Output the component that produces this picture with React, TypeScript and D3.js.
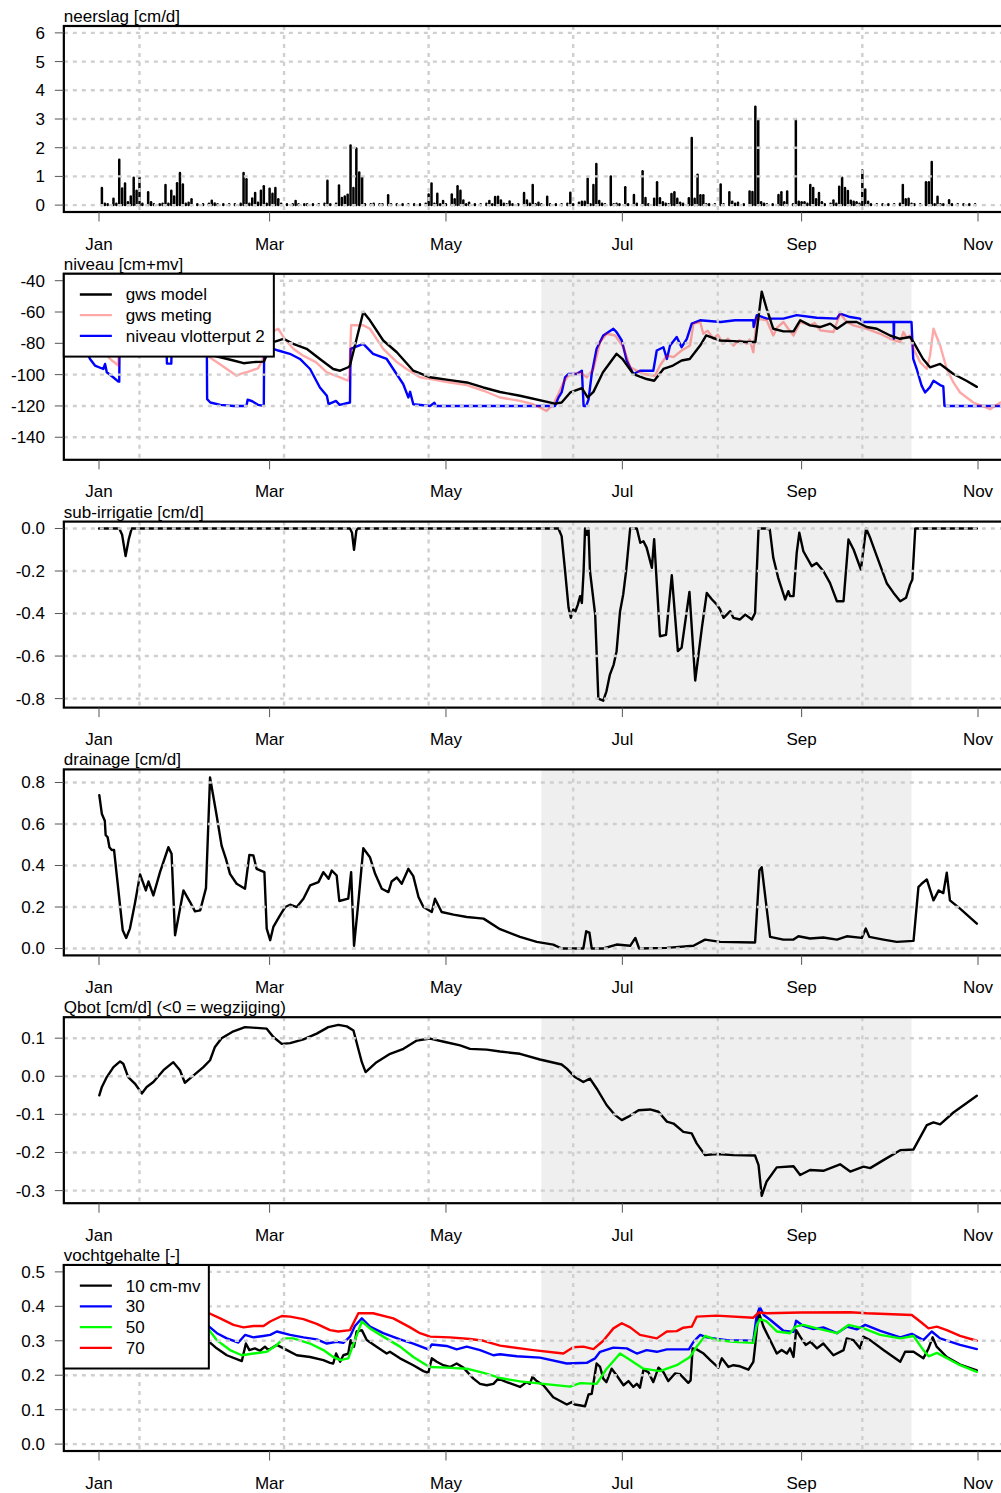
import React from 'react';
import * as d3 from 'd3';

type Pt = [number, number];

// all series are [day since 1 Jan 2015, value]
const JAN1 = new Date(Date.UTC(2015, 0, 1));
const DEC1 = new Date(Date.UTC(2015, 11, 1));
const dataDays: Pt = [0, 304];
const shadeFrom = new Date(Date.UTC(2015, 5, 3));
const shadeTo = new Date(Date.UTC(2015, 9, 9));

const rainfall: Pt[] = [
  [1, 0.6], [2, 0.05], [3, 0.03], [5, 0.22], [6, 0.05], [7, 1.58], [8, 0.58], [9, 0.75], [10, 0.1], [11, 0.3],
  [12, 0.95], [13, 0.5], [14, 0.95], [15, 0.05], [17, 0.45], [18, 0.1], [19, 0.03], [21, 0.03], [22, 0.05],
  [23, 0.7], [24, 0.05], [25, 0.5], [26, 0.3], [27, 0.76], [28, 1.12], [29, 0.72], [30, 0.05], [31, 0.08],
  [32, 0.2], [34, 0.03], [36, 0.03], [38, 0.05], [39, 0.15], [40, 0.06], [41, 0.03], [43, 0.03], [45, 0.03],
  [47, 0.03], [49, 0.05], [50, 1.12], [51, 0.9], [52, 0.05], [53, 0.23], [54, 0.42], [55, 0.08], [56, 0.5],
  [57, 0.66], [58, 0.05], [59, 0.57], [60, 0.4], [61, 0.6], [62, 0.2], [63, 0.05], [65, 0.03], [67, 0.03],
  [68, 0.14], [69, 0.03], [71, 0.03], [72, 0.03], [74, 0.03], [76, 0.03], [78, 0.05], [79, 0.85], [80, 0.03],
  [82, 0.05], [83, 0.68], [84, 0.25], [85, 0.3], [86, 0.36], [87, 2.08], [88, 0.6], [89, 1.97], [90, 1.14],
  [91, 0.97], [92, 0.03], [94, 0.03], [95, 0.05], [97, 0.03], [98, 0.03], [100, 0.34], [101, 0.03], [103, 0.03],
  [105, 0.03], [107, 0.03], [109, 0.03], [111, 0.03], [113, 0.05], [114, 0.37], [115, 0.75], [116, 0.05],
  [117, 0.4], [118, 0.03], [119, 0.14], [120, 0.03], [122, 0.37], [123, 0.2], [124, 0.66], [125, 0.5],
  [126, 0.16], [127, 0.03], [128, 0.08], [130, 0.03], [132, 0.03], [134, 0.05], [135, 0.14], [136, 0.03],
  [137, 0.28], [138, 0.29], [139, 0.16], [140, 0.05], [141, 0.03], [142, 0.13], [143, 0.03], [145, 0.03],
  [147, 0.42], [148, 0.16], [149, 0.05], [150, 0.7], [151, 0.03], [152, 0.08], [153, 0.03], [155, 0.29],
  [156, 0.03], [158, 0.03], [160, 0.03], [162, 0.05], [163, 0.43], [164, 0.03], [166, 0.08], [167, 0.12],
  [168, 0.12], [169, 0.92], [170, 0.03], [171, 0.7], [172, 1.43], [173, 0.14], [174, 0.05], [175, 0.03],
  [177, 1.0], [178, 0.03], [179, 0.05], [180, 0.03], [182, 0.62], [183, 0.03], [185, 0.35], [186, 0.05],
  [188, 1.18], [189, 0.25], [190, 0.03], [192, 0.22], [193, 0.8], [194, 0.24], [195, 0.1], [196, 0.05],
  [197, 0.03], [198, 0.39], [199, 0.45], [200, 0.22], [201, 0.08], [202, 0.05], [204, 0.24], [205, 2.34],
  [206, 0.22], [207, 1.06], [208, 0.34], [209, 0.34], [210, 0.03], [211, 0.03], [213, 0.03], [215, 0.72],
  [216, 0.03], [218, 0.45], [219, 0.12], [220, 0.05], [221, 0.08], [223, 0.03], [225, 0.47], [226, 0.46],
  [227, 3.43], [228, 2.95], [229, 0.1], [230, 0.05], [231, 0.03], [233, 0.03], [235, 0.35], [236, 0.45],
  [237, 0.1], [238, 0.47], [240, 0.03], [241, 2.97], [242, 0.12], [243, 0.1], [244, 0.1], [245, 0.05],
  [246, 0.7], [247, 0.6], [248, 0.2], [249, 0.42], [250, 0.1], [251, 0.03], [253, 0.05], [254, 0.16],
  [255, 0.05], [256, 0.64], [257, 0.95], [258, 0.6], [259, 0.49], [260, 0.15], [261, 0.12], [262, 0.1],
  [263, 0.05], [264, 1.21], [265, 0.54], [266, 0.12], [267, 0.03], [269, 0.03], [271, 0.03], [273, 0.03],
  [275, 0.03], [277, 0.05], [278, 0.7], [279, 0.2], [280, 0.22], [281, 0.05], [282, 0.03], [284, 0.03],
  [286, 0.8], [287, 0.8], [288, 1.5], [289, 0.03], [290, 0.29], [291, 0.03], [292, 0.03], [294, 0.17],
  [295, 0.03], [297, 0.03], [299, 0.03], [301, 0.03], [303, 0.03],
];

const gwsModel: Pt[] = [
  [0, -78], [5, -74], [10, -72], [15, -75], [20, -77], [25, -78], [30, -80], [35, -84], [39.5, -87.8],
  [46.5, -91], [50, -92.7], [53.4, -92], [57, -91.7], [58.5, -85.7], [60.3, -79.2], [63.8, -77.1], [67.2, -80.3],
  [71.8, -83.5], [76.4, -90], [81, -96.4], [83.4, -97.5], [86.2, -95.3], [86.8, -94.2], [91.4, -60], [93.7, -65.3],
  [98.3, -78.2], [103, -85.7], [108.7, -97.5], [114.5, -101.7], [121.4, -103.5], [127.2, -105], [132.9, -108.2],
  [138.7, -111.1], [145.6, -113.5], [157.7, -118.5], [160, -117.8], [163, -111.4], [167, -108.6], [169, -114.6],
  [171, -111], [174.3, -98.5], [179, -86.7], [181, -89.9], [184.8, -99.6], [189.4, -102.8], [192, -103.9],
  [195.2, -96.4], [198.5, -94.2], [201.5, -91], [204.3, -90], [207.9, -81.4], [210, -75], [214.8, -78.2],
  [219.4, -78.6], [224, -79.2], [227, -79.2], [229.2, -47], [230.9, -57.8], [233.2, -70.7], [236.7, -72.4],
  [240.2, -72.4], [242.5, -65.3], [245.9, -68.5], [249.4, -69.6], [252.9, -67.4], [255.2, -70.7], [258.6, -66.4],
  [262, -66.4], [265.5, -69.6], [269, -70.7], [273.6, -75], [277, -77.1], [280.5, -76], [281.7, -79.2],
  [285, -90], [287.4, -95.3], [290.9, -93.2], [295.5, -99.6], [300, -103.9], [303.6, -107.8],
];

const gwsMeting: Pt[] = [
  [0, -80], [2.7, -87.8], [4.5, -91], [6.7, -94.2], [6.8, -75], [10, -72], [15, -74], [20, -76], [25, -78],
  [30, -80], [35, -84], [37.3, -87.8], [40.7, -92], [44.2, -96.4], [47.6, -100.7], [49, -99.5], [51, -98.5],
  [53.4, -97], [55, -96], [56.5, -91], [57.5, -84], [59, -78], [60.5, -72], [62, -70.7], [63.8, -76], [65.5, -80],
  [67.2, -83.5], [70.5, -87.8], [75, -92], [78.8, -98.5], [83.4, -101.7], [86.2, -103.9], [86.6, -100],
  [87.2, -68.5], [91.4, -68.5], [93.7, -70.7], [98.3, -83.5], [103, -92], [106.4, -96.4], [111, -101.7],
  [115.6, -103.2], [121.4, -105], [127.2, -106.7], [133, -110.3], [138.7, -114.6], [145.6, -116.8],
  [150.2, -118.9], [154.8, -123.2], [157.1, -118.9], [158.9, -112.4], [160.6, -105], [162.3, -100.7],
  [166.4, -98.5], [168.7, -101.7], [171, -96.4], [173.3, -79.2], [175.6, -73.9], [178.5, -75], [181.4, -82.5],
  [183.7, -95.3], [188.3, -99.6], [192.3, -100.7], [194, -94.2], [196.4, -87.8], [198.7, -88.8], [201.5, -84.6],
  [204.4, -81.4], [205.6, -67.4], [207.9, -66.4], [209, -73.9], [210.5, -72], [212.5, -77.1], [214, -74.5],
  [215.9, -80.3], [217.5, -77], [219.4, -81.4], [221.5, -78], [224, -80.3], [225, -77.5], [226.3, -85.7],
  [227.5, -64.2], [230.9, -65.3], [233.2, -75], [234.5, -70], [236.7, -66.4], [238.5, -71], [240.2, -75],
  [242.5, -66.4], [245.9, -68.5], [247.5, -67], [249.4, -71.7], [254, -72.8], [256.3, -61], [258.6, -66.4],
  [260.9, -68.5], [265.5, -70.7], [270.2, -73.9], [273.6, -77.1], [277.1, -79.2], [278.2, -72.8], [279.4, -76.5],
  [280.5, -75], [281.7, -83.5], [284, -92], [286.3, -96.4], [287.4, -87.8], [288.6, -70.7], [290.9, -81.4],
  [293.2, -96.4], [295.5, -105], [297.8, -111.4], [302.4, -117.8], [308.2, -122.1], [311.7, -117.8],
];

const vlotterput: Pt[] = [
  [-3.7, -87.8], [-3.1, -90], [-1.4, -94.2], [1.5, -96.4], [2.1, -93.2], [2.7, -98.5], [4.9, -101.7],
  [6.7, -104.5], [7, -104.5], [7.1, -84], [10, -80], [15, -82], [20, -84], [23.4, -87], [23.5, -93], [25, -93],
  [25.1, -86], [30, -84], [37.3, -85], [37.4, -115.7], [38.5, -117.8], [42, -119.3], [46.6, -120], [51, -120],
  [51.4, -116], [53, -117], [55, -119.3], [57, -120], [57.1, -87.8], [58, -80], [60.3, -83.5], [62, -84.6],
  [66, -86.7], [69.5, -90], [73, -96.4], [76.4, -108.2], [78.8, -113.5], [79.4, -118.9], [82, -116.8],
  [83.2, -119.3], [86.8, -117.8], [87, -83.5], [91.4, -80.3], [94.8, -86.7], [99.5, -90], [102.9, -99.6],
  [105.2, -106], [107, -114.6], [107.6, -111], [108.7, -118.9], [114.5, -120], [116, -118], [116.5, -120],
  [157.7, -120], [158.9, -114.6], [160, -111.4], [161.2, -101.7], [162.3, -99.6], [165.2, -99.6], [167, -97.5],
  [167.6, -120], [168.5, -120], [169.3, -116], [170.4, -99.6], [172.1, -83.5], [174.4, -75], [177.9, -70.7],
  [179, -72.8], [180.8, -78.2], [182.5, -91], [184.8, -99.6], [187.1, -97.5], [191.7, -97.5], [192.9, -84.6],
  [195.2, -82.5], [196.4, -90], [197.5, -81.4], [199.8, -76], [201.5, -82.5], [203.3, -77.1], [205, -67.4],
  [207.9, -65.3], [215, -66.4], [220, -65.3], [226.3, -65.3], [226.4, -69.6], [227.5, -62], [231, -64.2],
  [236.7, -64.2], [241.3, -62], [248.2, -63.7], [255.2, -64.2], [256.3, -61], [259.8, -63.2], [263.2, -64.2],
  [264.3, -66.4], [274.8, -66.4], [274.9, -77], [275, -66.4], [281, -66.4], [281.6, -90], [282.8, -96.4],
  [284.5, -107], [285.7, -111.4], [287.4, -108], [288.6, -103.9], [290.9, -106.7], [292, -107.5], [292.4, -120],
  [316, -120],
];

const subIrrigatie: Pt[] = [
  [0, 0], [7, 0], [8, -0.03], [9.2, -0.13], [10.3, -0.05], [11.3, 0], [86.8, 0], [87.5, -0.02], [88.2, -0.1],
  [89, -0.01], [89.5, 0], [158.9, 0], [160, -0.036], [161.2, -0.2], [162.4, -0.373], [163.2, -0.42],
  [164, -0.381], [164.8, -0.389], [165.6, -0.358], [166.4, -0.318], [167, -0.35], [167.6, -0.2], [168.1, 0],
  [168.8, -0.03], [169.3, 0], [169.8, -0.2], [171.6, -0.405], [172.7, -0.8], [174.4, -0.81], [175.5, -0.766],
  [176.7, -0.687], [178, -0.64], [179, -0.577], [180.2, -0.39], [181.3, -0.31], [182.3, -0.2], [183.7, 0],
  [186, 0], [187.2, -0.067], [188.3, -0.06], [189.4, -0.09], [191.2, -0.185], [192, -0.05], [194, -0.507],
  [196.1, -0.5], [198.1, -0.22], [200.2, -0.577], [201.5, -0.56], [204.2, -0.298], [206.2, -0.715],
  [208.5, -0.467], [210.2, -0.303], [212, -0.334], [213.7, -0.358], [214.8, -0.381], [216, -0.42],
  [218.3, -0.389], [219.4, -0.42], [221.7, -0.428], [223.5, -0.405], [225.8, -0.428], [226.9, -0.397],
  [228.1, 0], [230.9, 0], [232, -0.005], [233.2, -0.138], [234.9, -0.232], [237.3, -0.334], [238.4, -0.295],
  [239, -0.318], [240.2, -0.318], [241.3, -0.115], [242.2, -0.02], [243.6, -0.107], [246.5, -0.177],
  [248.2, -0.162], [250.5, -0.2], [252.8, -0.256], [255.2, -0.342], [257.5, -0.342], [259.2, -0.052],
  [261, -0.1], [263.5, -0.193], [265.3, 0], [266.7, -0.044], [269, -0.13], [272.5, -0.259], [274.8, -0.303],
  [277.1, -0.342], [279.1, -0.326], [280.5, -0.264], [281.3, -0.24], [282.3, 0], [303.6, 0],
];

const drainage: Pt[] = [
  [0.1, 0.739], [1, 0.648], [2, 0.616], [2.3, 0.547], [3, 0.536], [3.6, 0.488], [4.4, 0.475], [5.2, 0.475],
  [8.2, 0.088], [9.4, 0.051], [10.7, 0.096], [12.4, 0.216], [14.2, 0.357], [16.2, 0.28], [17.1, 0.323],
  [18.8, 0.256], [21.1, 0.368], [24, 0.488], [25.1, 0.456], [26.3, 0.064], [29.2, 0.28], [31.5, 0.224],
  [33.2, 0.179], [35, 0.184], [37, 0.291], [38.4, 0.824], [39.5, 0.736], [40.7, 0.64], [42.4, 0.496],
  [43.9, 0.432], [45.3, 0.36], [47.6, 0.312], [50.5, 0.288], [52, 0.451], [53.4, 0.448], [54.5, 0.384],
  [57.2, 0.368], [58, 0.096], [59.2, 0.04], [60.3, 0.104], [62.6, 0.16], [64.4, 0.2], [66.1, 0.211],
  [68.4, 0.2], [70.7, 0.24], [73, 0.304], [75.9, 0.32], [77.6, 0.368], [79.4, 0.336], [80.5, 0.376],
  [82.2, 0.352], [83.1, 0.229], [86.2, 0.24], [87.2, 0.368], [88.2, 0.013], [89.7, 0.224], [91.4, 0.483],
  [93.7, 0.44], [95.5, 0.36], [97.8, 0.288], [100.1, 0.272], [101.2, 0.323], [103, 0.342], [104.7, 0.312],
  [107, 0.384], [108.7, 0.349], [110.5, 0.248], [112.2, 0.2], [115.1, 0.176], [116.2, 0.24], [118.5, 0.176],
  [122.6, 0.163], [127.2, 0.152], [133, 0.144], [138.7, 0.093], [145.6, 0.056], [151.4, 0.032],
  [157.1, 0.019], [160, 0], [167.5, 0], [168.5, 0.083], [169.6, 0.077], [170.4, 0], [174.4, 0], [179, 0.019],
  [183.7, 0.013], [185.5, 0.051], [186.8, 0], [196.4, 0.003], [205.6, 0.013], [209.6, 0.043], [214.8, 0.032],
  [226.9, 0.029], [228.4, 0.376], [229.2, 0.392], [232.1, 0.056], [236.7, 0.043], [240.2, 0.043],
  [241.9, 0.059], [245.9, 0.048], [250.5, 0.053], [255.2, 0.043], [258.6, 0.059], [263.8, 0.051],
  [265.2, 0.096], [266.4, 0.056], [271.3, 0.043], [275.9, 0.032], [281.7, 0.037], [283.4, 0.296],
  [284.5, 0.312], [286.3, 0.333], [288.6, 0.232], [290.4, 0.28], [292, 0.267], [293.2, 0.365], [294.3, 0.232],
  [297.8, 0.192], [303.6, 0.12],
];

const qbot: Pt[] = [
  [0.1, -0.05], [1, -0.028], [2.7, -0.002], [5, 0.024], [7.3, 0.039], [8.4, 0.033], [10.1, -0.002],
  [12.4, -0.019], [14.8, -0.045], [16.5, -0.028], [18.8, -0.015], [22.3, 0.016], [25.7, 0.037], [28, 0.016],
  [29.7, -0.017], [32, -0.002], [36.1, 0.024], [38.4, 0.042], [40.1, 0.077], [42.4, 0.1], [46.5, 0.118],
  [50.5, 0.129], [54.5, 0.127], [58, 0.125], [60.3, 0.103], [63.2, 0.085], [66.1, 0.087], [70.7, 0.097],
  [75.3, 0.112], [79.3, 0.129], [82.8, 0.135], [85.7, 0.131], [88, 0.12], [90.9, 0.037], [92.2, 0.011],
  [96, 0.037], [100.7, 0.059], [105.3, 0.072], [109.9, 0.094], [114.5, 0.099], [119.7, 0.09], [124.9, 0.081],
  [128.3, 0.072], [134.1, 0.07], [138.7, 0.065], [145.6, 0.059], [152.5, 0.044], [160, 0.031], [161.8, 0.02],
  [164.6, -0.002], [167.5, -0.015], [169.8, -0.006], [172.1, -0.032], [175.6, -0.076], [178.5, -0.102],
  [180.8, -0.115], [183.1, -0.106], [186.6, -0.089], [190.6, -0.087], [193.5, -0.093], [196.4, -0.119],
  [198.7, -0.124], [202.1, -0.146], [205, -0.15], [206.7, -0.176], [209.6, -0.207], [213.6, -0.204],
  [219.4, -0.207], [226.9, -0.208], [228.1, -0.233], [229.2, -0.314], [230.9, -0.276], [234.4, -0.239],
  [240.2, -0.236], [242.5, -0.259], [245.9, -0.246], [250.5, -0.248], [256.3, -0.231], [259.8, -0.25],
  [264.4, -0.237], [266.7, -0.241], [271.3, -0.22], [277.1, -0.194], [281.7, -0.192], [286.3, -0.128],
  [288.6, -0.121], [290.9, -0.126], [295.5, -0.095], [303.6, -0.051],
];

const theta10: Pt[] = [
  [0, 0.3], [10, 0.32], [20, 0.31], [30, 0.31], [38.1, 0.297], [40.7, 0.278], [44.2, 0.258], [49.4, 0.241],
  [50.8, 0.292], [52, 0.273], [53.9, 0.278], [55.7, 0.271], [57.4, 0.283], [58.6, 0.273], [61.5, 0.288],
  [65, 0.273], [68.4, 0.258], [73, 0.253], [77.6, 0.244], [79.9, 0.236], [81, 0.234], [82, 0.263], [83.4, 0.239],
  [84.5, 0.258], [86.2, 0.263], [87, 0.302], [88.2, 0.283], [89.1, 0.327], [90.9, 0.331], [92.6, 0.302],
  [96, 0.283], [99.5, 0.263], [100.6, 0.268], [104.1, 0.249], [108.7, 0.229], [112.2, 0.212], [113.9, 0.207],
  [115.1, 0.249], [116.8, 0.239], [119.1, 0.229], [121.4, 0.224], [123.7, 0.234], [126, 0.222], [129.5, 0.19],
  [131.8, 0.175], [134.1, 0.171], [136.4, 0.175], [138.1, 0.19], [141, 0.18], [145.6, 0.166], [147.9, 0.18],
  [149, 0.175], [149.9, 0.195], [151.4, 0.183], [153.7, 0.171], [157.1, 0.136], [161.8, 0.115], [163.5, 0.122],
  [164.6, 0.115], [168.1, 0.11], [169.3, 0.144], [170.4, 0.146], [172.1, 0.234], [173.3, 0.224], [174.4, 0.19],
  [175.5, 0.18], [177.3, 0.219], [179, 0.2], [181.4, 0.171], [183.1, 0.183], [184.8, 0.166], [186, 0.175],
  [187.1, 0.164], [188.3, 0.216], [190, 0.209], [191.7, 0.18], [193.5, 0.222], [195.2, 0.209], [196.9, 0.183],
  [199.2, 0.205], [200.9, 0.203], [203.8, 0.178], [204.6, 0.185], [205.3, 0.278], [206.7, 0.275],
  [209.1, 0.263], [211.4, 0.244], [214.2, 0.222], [215.4, 0.249], [217.7, 0.224], [219.4, 0.229],
  [221.7, 0.226], [224.6, 0.216], [226.3, 0.239], [226.9, 0.283], [228.1, 0.385], [229.8, 0.341],
  [232.1, 0.302], [234.4, 0.263], [236.1, 0.273], [237.9, 0.263], [239, 0.278], [240.2, 0.253], [241.1, 0.331],
  [242.5, 0.312], [244.4, 0.288], [246.1, 0.297], [248.3, 0.278], [250.5, 0.292], [254, 0.258], [257.5, 0.273],
  [258.6, 0.307], [260.9, 0.302], [263.2, 0.278], [264.3, 0.312], [266.7, 0.302], [271.3, 0.273],
  [277.1, 0.239], [278.8, 0.268], [281.7, 0.268], [285.1, 0.249], [286.9, 0.278], [288.3, 0.31],
  [289.7, 0.283], [293.2, 0.253], [297.8, 0.231], [303.6, 0.214],
];

const theta30: Pt[] = [
  [0, 0.33], [10, 0.34], [20, 0.345], [30, 0.35], [38.1, 0.341], [40.8, 0.322], [44.2, 0.307], [48.2, 0.295],
  [50.5, 0.317], [53.4, 0.31], [56.8, 0.314], [59.2, 0.317], [61.5, 0.327], [66.1, 0.317], [70.7, 0.31],
  [75.3, 0.304], [78.8, 0.292], [82.2, 0.297], [84.5, 0.294], [86.8, 0.312], [88.5, 0.343], [90.9, 0.365],
  [93.7, 0.341], [98.3, 0.322], [104.1, 0.304], [108.7, 0.292], [113.9, 0.275], [115.1, 0.289], [120.2, 0.285],
  [123.7, 0.275], [127.2, 0.283], [131.8, 0.273], [136.4, 0.258], [138.7, 0.261], [144.5, 0.255],
  [152.5, 0.251], [161.8, 0.234], [168.7, 0.236], [171.6, 0.249], [173.3, 0.268], [177.9, 0.28],
  [182.5, 0.278], [186, 0.263], [189.4, 0.273], [192.9, 0.268], [196.4, 0.275], [204, 0.275], [205.6, 0.297],
  [207.9, 0.317], [210.2, 0.31], [217.1, 0.302], [226.3, 0.3], [227.4, 0.37], [228.5, 0.398], [229.9, 0.375],
  [232.1, 0.361], [236.7, 0.329], [240.2, 0.326], [241.1, 0.358], [243.6, 0.343], [247.1, 0.334],
  [250.5, 0.339], [255.2, 0.322], [258.6, 0.341], [262.1, 0.333], [265, 0.346], [270.2, 0.329], [277.1, 0.31],
  [281.1, 0.32], [285.1, 0.302], [288, 0.327], [290.9, 0.307], [297.8, 0.288], [303.6, 0.276],
];

const theta50: Pt[] = [
  [0, 0.32], [10, 0.33], [20, 0.335], [30, 0.34], [38.1, 0.331], [40.7, 0.302], [45.3, 0.273], [49.4, 0.258],
  [53.4, 0.263], [58, 0.268], [61.5, 0.288], [63.8, 0.307], [67.2, 0.307], [73, 0.292], [77.6, 0.273],
  [81, 0.253], [83.4, 0.244], [86.2, 0.249], [88.5, 0.302], [90.9, 0.356], [93.7, 0.336], [98.3, 0.312],
  [104.1, 0.283], [108.7, 0.253], [113.3, 0.229], [114.5, 0.224], [120.2, 0.222], [127.2, 0.219], [133, 0.207],
  [138.7, 0.192], [145.6, 0.182], [153.7, 0.175], [162.9, 0.167], [166.4, 0.177], [172.1, 0.175],
  [175.6, 0.219], [180.2, 0.263], [183.7, 0.244], [188.3, 0.219], [194, 0.212], [199.8, 0.229], [204.4, 0.253],
  [206.7, 0.283], [209.6, 0.314], [213.6, 0.302], [219.4, 0.297], [226.3, 0.294], [227.5, 0.346],
  [228.6, 0.363], [230.9, 0.356], [234.4, 0.327], [239, 0.322], [240.8, 0.341], [243.6, 0.346], [248.3, 0.336],
  [255.2, 0.322], [259.2, 0.346], [264.4, 0.336], [270.2, 0.317], [277.1, 0.307], [281.7, 0.314],
  [285.1, 0.273], [286.9, 0.255], [289.8, 0.265], [294.4, 0.244], [297.8, 0.229], [303.6, 0.21],
];

const theta70: Pt[] = [
  [0, 0.36], [10, 0.37], [20, 0.372], [30, 0.376], [38.1, 0.38], [41.9, 0.365], [46.5, 0.346], [50, 0.339],
  [53.4, 0.343], [56.9, 0.343], [59.2, 0.356], [63.2, 0.372], [66.1, 0.37], [70.7, 0.363], [75.3, 0.349],
  [79.9, 0.331], [82.8, 0.327], [86.8, 0.331], [89.7, 0.38], [94.8, 0.38], [101.8, 0.365], [107.6, 0.339],
  [111, 0.322], [114.5, 0.312], [121.4, 0.31], [128.3, 0.305], [133, 0.3], [138.7, 0.286], [150.2, 0.273],
  [160.6, 0.263], [164, 0.281], [167.5, 0.283], [171, 0.276], [174.4, 0.3], [177.9, 0.336], [180.8, 0.351],
  [183.7, 0.339], [187.1, 0.317], [192.9, 0.307], [196.4, 0.327], [199.8, 0.328], [202.1, 0.338], [205, 0.341],
  [206.7, 0.37], [213.6, 0.373], [226.3, 0.367], [228.1, 0.382], [231, 0.38], [242.5, 0.382], [259.8, 0.383],
  [265.5, 0.38], [281.1, 0.375], [284, 0.356], [286.9, 0.336], [289.8, 0.341], [293.2, 0.331], [297.8, 0.314],
  [303.6, 0.3],
];

const panelTitles = [
  'neerslag [cm/d]',
  'niveau [cm+mv]',
  'sub-irrigatie [cm/d]',
  'drainage [cm/d]',
  'Qbot [cm/d] (<0 = wegzijging)',
  'vochtgehalte [-]',
];
const panelYlims: Pt[] = [[0, 6], [-150, -40], [-0.81, 0], [0, 0.83], [-0.315, 0.137], [0, 0.5]];
const panelTickCounts = [6, 5, 5, 5, 5, 5];
const levelLegend = ['gws model', 'gws meting', 'niveau vlotterput 2'];
const moistureLegend = ['10 cm-mv', '30', '50', '70'];

// layout
const W = 1001;
const H = 1493;
const PANEL_TOP = 26;
const PANEL_STEP = 247.8;
const PANEL_H = 186;
const FONT = '"Liberation Sans", Arial, Helvetica, sans-serif';
const FS = 17;
const GRID = '#cfcfcf';
const PINK = 'rgba(255,0,0,0.34)';

const loc = d3.formatLocale({ decimal: '.', thousands: ',', grouping: [3], currency: ['', ''], minus: '-' });
const fmtInt = loc.format('d');
const fmtDec = loc.format('.1f');

const extend = ([a, b]: Pt): Pt => {
  const d = (b - a) * 0.04;
  return [a - d, b + d];
};

const dayOf = (d: Date) => d3.utcDay.count(JAN1, d);
const x = d3.scaleLinear().domain(dataDays).range([99, 978]);
const [xLeft, xRight] = extend(dataDays).map(x);
const monthTicks = d3.utcMonth.every(2)!.range(JAN1, DEC1);
const monthFmt = d3.utcFormat('%b');
// R grid(): every 50 days on the numeric Date axis
const epoch0 = Math.round(JAN1.getTime() / 86400000);
const [dLo, dHi] = extend(dataDays);
const gridDays = d3.range(Math.ceil((epoch0 + dLo) / 50) * 50, epoch0 + dHi, 50).map((v) => v - epoch0);

function Legend({ top, width, labels, colors }: { top: number; width: number; labels: string[]; colors: string[] }) {
  const row = 20.7;
  return (
    <g>
      <rect x={xLeft} y={top} width={width} height={row * (labels.length + 1)} fill="#fff" stroke="#000" strokeWidth={2} />
      {labels.map((l, i) => (
        <g key={l}>
          <line x1={xLeft + 16} x2={xLeft + 48} y1={top + row * (i + 1)} y2={top + row * (i + 1)} stroke={colors[i]} strokeWidth={2.3} />
          <text x={xLeft + 62} y={top + row * (i + 1)} dy="0.35em" fontSize={FS} fontFamily={FONT}>{l}</text>
        </g>
      ))}
    </g>
  );
}

export default function App() {
  const panels = panelTitles.map((title, i) => {
    const top = PANEL_TOP + i * PANEL_STEP;
    const bottom = top + PANEL_H;
    const y = d3.scaleLinear().domain(extend(panelYlims[i])).range([bottom, top]);
    const yTicks = d3.ticks(panelYlims[i][0], panelYlims[i][1], panelTickCounts[i]);
    const fmt = i < 2 ? fmtInt : fmtDec;
    const line = d3.line<Pt>().x((d) => x(d[0])).y((d) => y(d[1]));
    const path = (pts: Pt[], color: string, w = 2.4) => (
      <path d={line(pts) ?? ''} fill="none" stroke={color} strokeWidth={w} strokeLinejoin="round" strokeLinecap="round" />
    );

    let content: React.ReactNode = null;
    if (i === 0) {
      content = rainfall.map(([d, v]) => (
        <line key={d} x1={x(d)} x2={x(d)} y1={y(0)} y2={y(v)} stroke="#000" strokeWidth={2.5} strokeLinecap="round" />
      ));
    } else if (i === 1) {
      content = (
        <>
          {path(vlotterput, '#0000ff')}
          {path(gwsMeting, PINK)}
          {path(gwsModel, '#000')}
        </>
      );
    } else if (i === 2) {
      content = path(subIrrigatie, '#000');
    } else if (i === 3) {
      content = path(drainage, '#000');
    } else if (i === 4) {
      content = path(qbot, '#000');
    } else {
      content = (
        <>
          {path(theta10, '#000')}
          {path(theta30, '#0000ff')}
          {path(theta50, '#00ff00')}
          {path(theta70, '#ff0000')}
        </>
      );
    }

    return (
      <g key={title}>
        <defs>
          <clipPath id={`clip-${i}`}>
            <rect x={xLeft} y={top} width={xRight - xLeft} height={PANEL_H} />
          </clipPath>
        </defs>
        {i > 0 && (
          <rect x={x(dayOf(shadeFrom))} y={top} width={x(dayOf(shadeTo)) - x(dayOf(shadeFrom))} height={PANEL_H} fill="#efefef" />
        )}
        <g clipPath={`url(#clip-${i})`}>{content}</g>
        {/* grid sits on top of the data, as in the original */}
        <g stroke={GRID} strokeWidth={2.4} strokeDasharray="4 5">
          {gridDays.map((d) => (
            <line key={d} x1={x(d)} x2={x(d)} y1={top} y2={bottom} />
          ))}
          {yTicks.map((t) => (
            <line key={t} x1={xLeft} x2={xRight} y1={y(t)} y2={y(t)} />
          ))}
        </g>
        <rect x={xLeft} y={top} width={xRight - xLeft} height={PANEL_H} fill="none" stroke="#000" strokeWidth={2.2} />
        {monthTicks.map((m) => (
          <g key={+m}>
            <line x1={x(dayOf(m))} x2={x(dayOf(m))} y1={bottom} y2={bottom + 9.5} stroke="#555" strokeWidth={1} />
            <text x={x(dayOf(m))} y={bottom + 37.5} textAnchor="middle" fontSize={FS} fontFamily={FONT}>{monthFmt(m)}</text>
          </g>
        ))}
        {yTicks.map((t) => (
          <g key={t}>
            <line x1={xLeft - 9} x2={xLeft} y1={y(t)} y2={y(t)} stroke="#555" strokeWidth={1} />
            <text x={45} y={y(t)} dy="0.35em" textAnchor="end" fontSize={FS} fontFamily={FONT}>{fmt(t)}</text>
          </g>
        ))}
        <text x={xLeft} y={top - 4} fontSize={FS} fontFamily={FONT}>{title}</text>
        {i === 1 && <Legend top={top} width={210} labels={levelLegend} colors={['#000', PINK, '#0000ff']} />}
        {i === 5 && <Legend top={top} width={145} labels={moistureLegend} colors={['#000', '#0000ff', '#00ff00', '#ff0000']} />}
      </g>
    );
  });

  return (
    <svg width={W} height={H} style={{ position: 'absolute', left: 0, top: 0, display: 'block', background: '#fff' }}>
      {panels}
    </svg>
  );
}
